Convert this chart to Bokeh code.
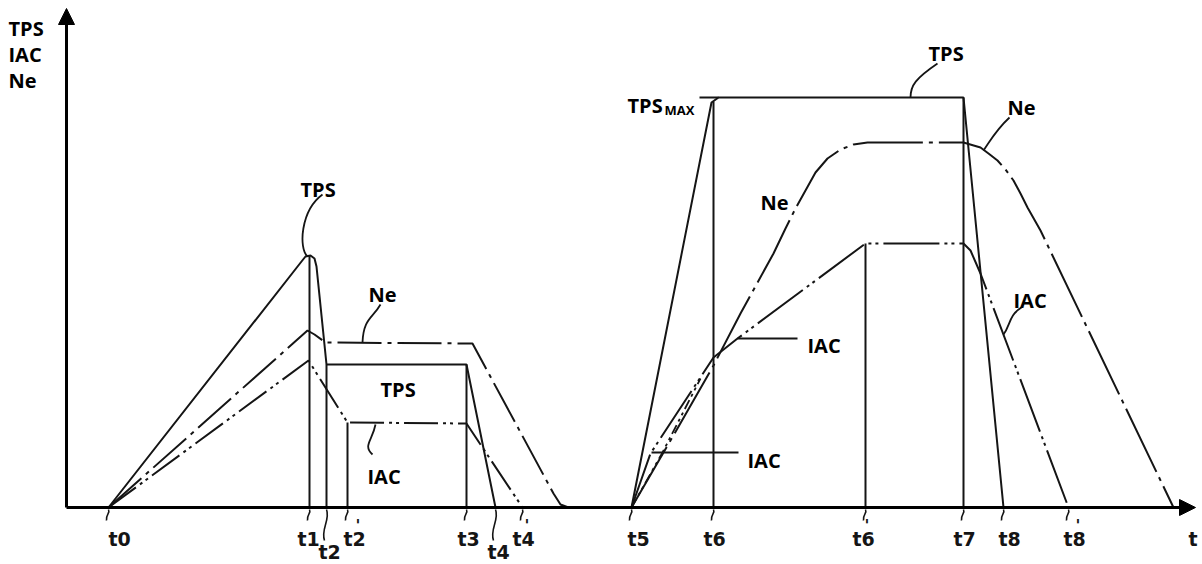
from bokeh.plotting import figure
from bokeh.models import Range1d, Arrow, NormalHead
from bokeh.core.properties import value
from bokeh.embed import file_html
from bokeh.resources import INLINE

# ---------------- data (time in px-like units, value = height above time axis) -------------
# first event (t0 .. t4')
tps_left_t = [108, 301, 305, 310, 314, 316, 326, 466, 495]
tps_left_v = [0, 246, 251, 252, 249, 241, 143, 143, 0]
ne_left_t = [108, 307, 314, 325, 472, 553, 560, 568]
ne_left_v = [0, 177, 173, 165, 164, 14, 3, 0]
iac_left_t = [108, 308, 347, 466, 522]
iac_left_v = [0, 147, 85, 84, 0]

# second event (t5 .. t8')
tps_right_t = [631, 711, 718, 963, 1003]
tps_right_v = [0, 405, 410, 410, 0]
ne_right_t = [631, 670, 713, 740, 773, 785, 795, 805, 815, 827, 840, 853, 867,
              963, 980, 988, 997, 1005, 1013, 1020, 1027, 1040, 1173]
ne_right_v = [0, 67, 142, 194, 254, 279, 299, 317, 335, 349, 358, 363, 365,
              365, 360, 354, 347, 338, 327, 314, 300, 277, 0]
iac_right_t = [631, 650, 713, 737, 865, 963, 970, 980, 1068]
iac_right_v = [0, 54, 150, 169, 264, 264, 257, 234, 0]
iac_right2_t = [631, 662, 700]
iac_right2_v = [0, 55, 129]

# time markers
tick_t = [108, 309, 326, 347, 466, 495, 522, 631, 713, 865, 963, 1003, 1068]
tick_names = ["t0", "t1", "t2", "t2", "t3", "t4", "t4", "t5", "t6", "t6", "t7", "t8", "t8"]
tick_prime = [False, False, False, True, False, False, True, False, False, True, False, False, True]
tick_low = [False, False, True, False, False, True, False, False, False, False, False, False, False]
tick_label_dx = [0, -12, -8, -4, -9, -8, -10, -4, -10, -13, -10, -5, -5]
# vertical marker lines (time, top value)
vline_t = [309, 326, 347, 466, 713, 865, 963]
vline_v = [252, 143, 85, 143, 406, 264, 410]

# labels (text, x, baseline value)
lab_text = ["TPS", "IAC", "Ne", "TPS", "Ne", "TPS", "IAC", "TPS", "TPS", "Ne", "Ne", "IAC", "IAC", "IAC"]
lab_x = [8, 8, 8, 300, 368, 380, 367, 627, 928, 1007, 760, 807, 747, 1013]
lab_y = [479, 453, 427, 318, 213, 118, 31, 402, 454, 400, 305, 162, 47, 207]

BASE = 507
INK = "#151515"
FONT = value("Open Sans")

p = figure(width=1202, height=564, output_backend="svg", toolbar_location=None,
           x_range=Range1d(0, 1202), y_range=Range1d(BASE - 564, BASE),
           x_axis_location=None, y_axis_location=None, min_border=0)
p.grid.visible = False
p.outline_line_color = None
p.background_fill_color = "white"
p.border_fill_color = "white"

NE_DASH = "44 6 4 6"
IAC_DASH = "34 5 3 4 3 5"

# curves
p.line(tps_left_t, tps_left_v, line_color=INK, line_width=2)
p.line(ne_left_t, ne_left_v, line_color=INK, line_width=2, line_dash=NE_DASH)
p.line(iac_left_t, iac_left_v, line_color=INK, line_width=2, line_dash=IAC_DASH)
p.line(tps_right_t, tps_right_v, line_color=INK, line_width=2)
p.line(ne_right_t, ne_right_v, line_color=INK, line_width=2, line_dash="70 6 4 6")
p.line(iac_right_t, iac_right_v, line_color=INK, line_width=2, line_dash="56 5 3 4 3 5")
p.line(iac_right2_t, iac_right2_v, line_color=INK, line_width=1.8, line_dash="10 4 3 4 3 4")

# vertical time markers
p.segment(x0=vline_t, y0=[0] * len(vline_t), x1=vline_t, y1=vline_v, line_color=INK, line_width=2)

# axes with arrows
p.add_layout(Arrow(end=NormalHead(size=16, fill_color="black", line_color="black"),
                   x_start=66, y_start=0, x_end=66, y_end=BASE - 8, line_width=3, line_color="black"))
p.add_layout(Arrow(end=NormalHead(size=16, fill_color="black", line_color="black"),
                   x_start=66, y_start=0, x_end=1195, y_end=0, line_width=3, line_color="black"))

# tick squiggles
sx0, sy0, sx1, sy1, scx0, scy0, scx1, scy1 = [], [], [], [], [], [], [], []
for t, low in zip(tick_t, tick_low):
    sx0.append(t); sy0.append(-2)
    if low:
        scx0.append(t + 4); scy0.append(-12); scx1.append(t - 6); scy1.append(-22)
        sx1.append(t - 2); sy1.append(-33)
    else:
        scx0.append(t + 2); scy0.append(-6); scx1.append(t - 3); scy1.append(-7)
        sx1.append(t - 2); sy1.append(-13)
p.bezier(x0=sx0, y0=sy0, x1=sx1, y1=sy1, cx0=scx0, cy0=scy0, cx1=scx1, cy1=scy1,
         line_color=INK, line_width=1.6)

# tick labels
tl_x = [t + dx for t, dx in zip(tick_t, tick_label_dx)]
tl_y = [BASE - (551 if low else 538) for low in tick_low]
p.text(x=tl_x, y=tl_y, text=tick_names, text_font=value("DejaVu Sans"), text_font_size="19px",
       text_font_style="bold", text_color=INK, text_baseline="alphabetic", text_align="left")
pr_x = [x + 12 for x, pr in zip(tl_x, tick_prime) if pr]
pr_y = [BASE - 525 for pr in tick_prime if pr]
p.text(x=pr_x, y=pr_y, text=["'"] * len(pr_x), text_font=value("DejaVu Sans"), text_font_size="16px",
       text_color=INK, text_baseline="alphabetic", text_align="left", text_font_style="bold")
# axis name at the arrow end
p.text(x=[1188], y=[BASE - 538], text=["t"], text_font=value("DejaVu Sans"), text_font_size="19px",
       text_font_style="bold", text_color=INK, text_baseline="alphabetic", text_align="left")

# label leaders
lx0 = [322, 380, 375, 937, 1009, 1021]
ly0 = [BASE - 194, BASE - 304, BASE - 424, BASE - 63, BASE - 117, BASE - 307]
lcx0 = [300, 372, 372, 915, 995, 1008]
lcy0 = [BASE - 210, BASE - 318, BASE - 440, BASE - 78, BASE - 130, BASE - 315]
lcx1 = [298, 363, 362, 910, 990, 1010]
lcy1 = [BASE - 248, BASE - 318, BASE - 445, BASE - 85, BASE - 140, BASE - 325]
lx1 = [307, 362, 372, 910, 983, 1003]
ly1 = [BASE - 256, BASE - 342, BASE - 454, BASE - 97, BASE - 150, BASE - 334]
p.bezier(x0=lx0, y0=ly0, x1=lx1, y1=ly1, cx0=lcx0, cy0=lcy0, cx1=lcx1, cy1=lcy1,
         line_color=INK, line_width=1.8)
# straight leaders
p.segment(x0=[737, 651, 699], y0=[169, 55, 410], x1=[797, 738, 718], y1=[169, 55, 410],
          line_color=INK, line_width=1.8)

# labels
p.text(x=lab_x, y=lab_y, text=lab_text, text_font=FONT, text_font_size="20px",
       text_font_style="bold", text_color="black", text_baseline="alphabetic", text_align="left")
p.text(x=[664], y=[BASE - 109], text=["MAX"], text_font=FONT, text_font_size="13px",
       text_font_style="bold", text_color="black", text_baseline="alphabetic", text_align="left")

open("out.html", "w").write(file_html(p, INLINE))
